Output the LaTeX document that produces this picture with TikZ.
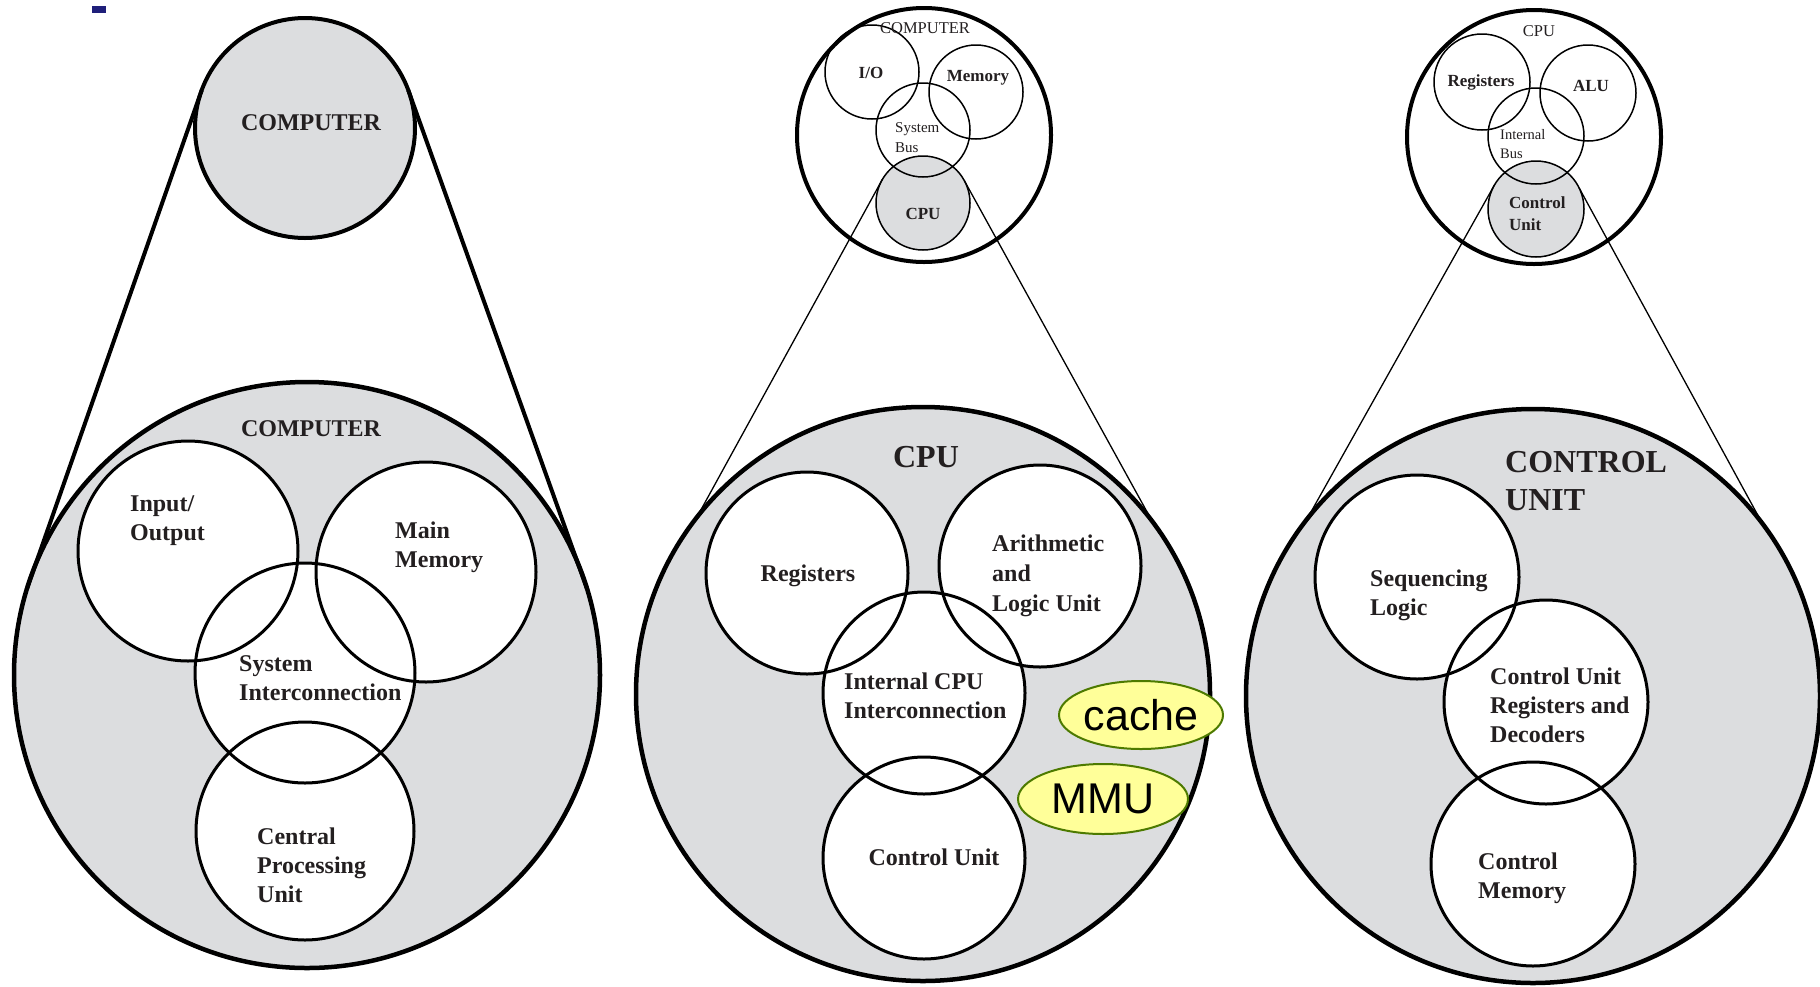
\documentclass[tikz,border=0pt]{standalone}
\usepackage{fontspec}
\setmainfont{Liberation Serif}
\newfontfamily\sansf{Liberation Sans}
\usetikzlibrary{shapes.geometric}
\definecolor{pgray}{HTML}{DCDDDF}
\definecolor{txt}{HTML}{231F20}
\definecolor{ylw}{HTML}{FFFF99}
\definecolor{grn}{HTML}{4D7A00}
\definecolor{navy}{HTML}{1F1F7A}
\newcommand\fs[2]{\fontsize{#1}{#2}\selectfont}
\pgfdeclarelayer{bg}
\pgfsetlayers{bg,main}
\begin{document}
\begin{tikzpicture}[x=1pt,y=-1pt,
  ring/.style={circle,draw=black,inner sep=0pt,outer sep=0pt,minimum size=#1},
  lbl/.style={text=txt,inner sep=0pt,font=\bfseries\fs{24}{29}},
  lbll/.style={lbl,align=left,anchor=west},
  big/.style={lbl,font=\bfseries\fs{32}{38}},
  sml/.style={text=txt,inner sep=0pt,font=\bfseries\fs{17}{21}},
  smr/.style={text=txt,inner sep=0pt,font=\fs{16.5}{20}},
  tag/.style={ellipse,draw=grn,fill=ylw,line width=2pt,inner sep=0pt,font=\sansf\fs{43}{48}}
]
\useasboundingbox (0,0) rectangle (1820,986);
\fill[navy] (92,6) rectangle (106,13);

% ---------- Panel 1 ----------
\node[ring=220pt, line width=4pt] (t1) at (305,128) {};
\node[ring=586pt, line width=4.5pt] (b1) at (307,675) {};
\node[ring=220pt, line width=3pt] (io) at (188,551) {};
\node[ring=220pt, line width=3pt] (mm) at (426,572) {};
\node[ring=220pt, line width=3pt] (si) at (305,673) {};
\node[ring=218pt, line width=3pt] (cp) at (305,831) {};
\draw[line width=4pt] (t1.160) -- (b1.163);
\draw[line width=4pt] (t1.20) -- (b1.17);

% ---------- Panel 2 ----------
\node[ring=254pt, line width=4pt] (t2) at (924,135) {};
\node[ring=94pt, line width=1.5pt] (io2) at (872,72) {};
\node[ring=94pt, line width=1.5pt] (mem2) at (976,92) {};
\node[ring=94pt, line width=1.5pt] (bus2) at (923,130) {};
\node[ring=94pt, line width=1.5pt] (cpu2) at (923,203) {};
\node[ring=574pt, line width=4.5pt] (b2) at (923,694) {};
\node[ring=202pt, line width=3pt] (reg) at (807,573) {};
\node[ring=202pt, line width=3pt] (alu) at (1040,566) {};
\node[ring=202pt, line width=3pt] (icc) at (924,693) {};
\node[ring=202pt, line width=3pt] (cu) at (924,858) {};
\draw[line width=1.3pt] (cpu2.150) -- (b2.142);
\draw[line width=1.3pt] (cpu2.28) -- (b2.37);

% ---------- Panel 3 ----------
\node[ring=254pt, line width=4pt] (t3) at (1534,137) {};
\node[ring=96pt, line width=1.5pt] (reg3) at (1482,82) {};
\node[ring=96pt, line width=1.5pt] (alu3) at (1588,93) {};
\node[ring=96pt, line width=1.5pt] (bus3) at (1536,136) {};
\node[ring=96pt, line width=1.5pt] (cu3) at (1536,209) {};
\node[ring=574pt, line width=4.5pt] (b3) at (1533,696) {};
\node[ring=204pt, line width=3pt] (seq) at (1417,577) {};
\node[ring=204pt, line width=3pt] (cur) at (1546,702) {};
\node[ring=204pt, line width=3pt] (cm) at (1533,864) {};
\draw[line width=1.3pt] (cu3.150) -- (b3.142);
\draw[line width=1.3pt] (cu3.26) -- (b3.37);

% ---------- fills ----------
\begin{pgfonlayer}{bg}
  \fill[white] (0,0) rectangle (1820,986);
  \fill[pgray] (t1.center) circle (110pt);
  \fill[pgray] (b1.center) circle (293pt);
  \fill[pgray] (b2.center) circle (287pt);
  \fill[pgray] (b3.center) circle (287pt);
  \foreach \n/\r in {io/110,mm/110,si/110,cp/109,reg/101,alu/101,icc/101,cu/101,seq/102,cur/102,cm/102}
    \fill[white] (\n.center) circle (\r pt);
  \fill[pgray] (cpu2.center) circle (47pt);
  \fill[pgray] (cu3.center) circle (48pt);
\end{pgfonlayer}

% ---------- labels panel 1 ----------
\node[lbl] (l1a) at (311,123) {COMPUTER};
\node[lbl] (l1b) at (311,429) {COMPUTER};
\node[lbll] (l1c) at (130,521) {Input/\\Output};
\node[lbll] (l1d) at (395,547) {Main\\Memory};
\node[lbll] (l1e) at (239,678) {System\\Interconnection};
\node[lbll] (l1f) at (257,865) {Central\\Processing\\Unit};

% ---------- labels panel 2 ----------
\node[smr] (l2a) at (925,28) {COMPUTER};
\node[sml] (l2b) at (871,73) {I/O};
\node[sml] (l2c) at (978,78) {Memory};
\node[smr, font=\fs{15}{20}, align=left, anchor=west] (l2d) at (895,138) {System\\Bus};
\node[sml] (l2e) at (923,214) {CPU};
\node[big] (l2f) at (926,457) {CPU};
\node[lbl] (l2g) at (808,576) {Registers};
\node[lbll, font=\bfseries\fs{24}{30}] (l2h) at (992,576) {Arithmetic\\and\\Logic Unit};
\node[lbll] (l2i) at (844,696) {Internal CPU\\Interconnection};
\node[lbl] (l2j) at (934,857) {Control Unit};
\node[tag, minimum width=164pt, minimum height=68pt] (cache) at (1141,715) {cache};
\node[tag, minimum width=170pt, minimum height=70pt] (mmu) at (1103,799) {MMU};

% ---------- labels panel 3 ----------
\node[smr] (l3a) at (1539,31) {CPU};
\node[sml] (l3b) at (1481,82) {Registers};
\node[sml] (l3c) at (1591,86) {ALU};
\node[smr, font=\fs{14.5}{19}, align=left, anchor=west] (l3d) at (1500,144) {Internal\\Bus};
\node[sml, font=\bfseries\fs{17}{22}, align=left, anchor=west] (l3e) at (1509,214) {Control\\Unit};
\node[big, align=left, anchor=west] (l3f) at (1505,481) {CONTROL\\UNIT};
\node[lbll] (l3g) at (1370,595) {Sequencing\\Logic};
\node[lbll] (l3h) at (1490,705) {Control Unit\\Registers and\\Decoders};
\node[lbll] (l3i) at (1478,878) {Control\\Memory};
\end{tikzpicture}
\end{document}
